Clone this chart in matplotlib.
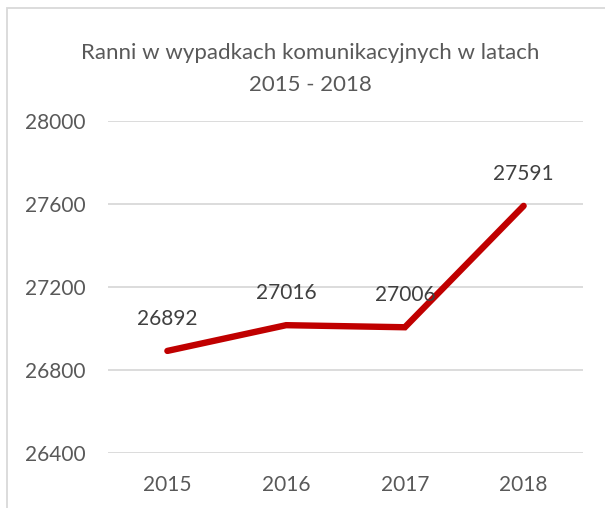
import matplotlib.pyplot as plt
from matplotlib.patches import Rectangle

years = ['2015', '2016', '2017', '2018']
injured = [26892, 27016, 27006, 27591]
y_ticks = [26400, 26800, 27200, 27600, 28000]

title = 'Ranni w wypadkach komunikacyjnych w latach\n2015 - 2018'
text_color = '#595959'
label_color = '#404040'
grid_color = '#D9D9D9'
line_color = '#C00000'

plt.rcParams['font.family'] = ['Lato', 'DejaVu Sans']

fig = plt.figure(figsize=(6.05, 5.08), dpi=100)
ax = fig.add_axes([108 / 605, 1 - 453 / 508, 475 / 605, 332 / 508])

# chart border (cut off on the right and bottom like the screenshot)
fig.patches.append(Rectangle((7 / 605, -0.1), 1.2, 1.1 - 8 / 508,
                             transform=fig.transFigure, fill=False,
                             edgecolor=grid_color, linewidth=1.3))

x = list(range(len(years)))
ax.plot(x, injured, color=line_color, linewidth=4.6, solid_capstyle='round',
        solid_joinstyle='miter', zorder=3)

for xi, v in zip(x, injured):
    ax.annotate(str(v), (xi, v), xytext=(0, 23), textcoords='offset points',
                ha='center', va='center', fontsize=15, color=label_color)

ax.set_xlim(-0.5, len(years) - 0.5)
ax.set_ylim(y_ticks[0], y_ticks[-1])
ax.set_xticks(x)
ax.set_xticklabels(years)
ax.set_yticks(y_ticks)
ax.tick_params(axis='both', length=0, labelsize=15, labelcolor=text_color)
ax.tick_params(axis='y', pad=16)
ax.tick_params(axis='x', pad=16)
ax.grid(axis='y', color=grid_color, linewidth=1.3)
ax.set_axisbelow(True)
for s in ax.spines.values():
    s.set_visible(False)

fig.text(310 / 605, 1 - 69 / 508, title, ha='center', va='center',
         fontsize=16, color=text_color, linespacing=1.7)

fig.savefig('out.png', dpi=100)
